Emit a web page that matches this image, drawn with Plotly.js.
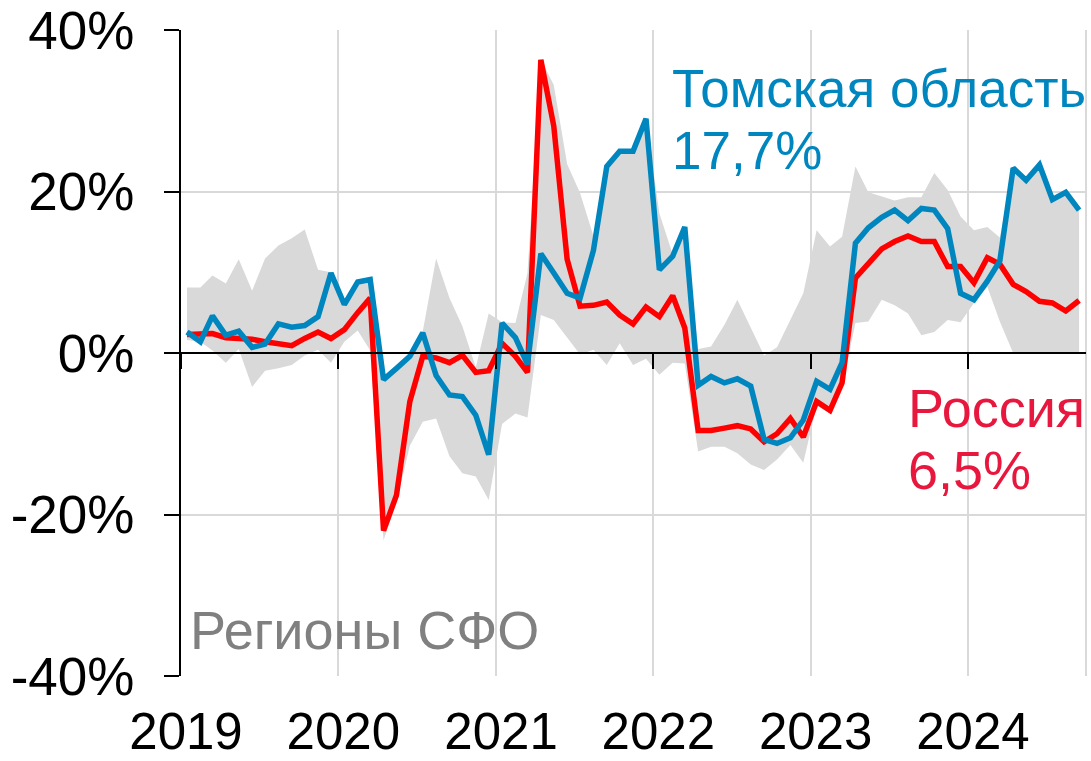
<!DOCTYPE html>
<html>
<head>
<meta charset="utf-8">
<script src="https://cdn.plot.ly/plotly-3.0.1.min.js"></script>
<style>
  html, body { margin: 0; padding: 0; background: #fff; }
  #plotArea { width: 1091px; height: 761px; }
</style>
</head>
<body>
<div id="plotArea"></div>
<script>
// monthly data, Jan 2019 .. Sep 2024, % y/y
var startYear = 2019;
var nMonths = 69;
var months = [];
for (var i = 0; i < nMonths; i++) {
    var y = startYear + Math.floor(i / 12);
    var m = (i % 12) + 1;
    months.push(y + "-" + (m < 10 ? "0" + m : m) + "-15");
}

// Россия
var russia = [
    2.3, 2.3, 2.4, 1.9, 1.8, 1.7, 1.4, 1.1, 0.9, 1.8, 2.6, 1.8,
    2.9, 5.0, 6.8, -22.0, -17.6, -6.0, -0.4, -0.6, -1.2, -0.3, -2.4, -2.2,
    1.2, -0.4, -2.4, 36.3, 28.1, 11.6, 5.8, 5.9, 6.3, 4.7, 3.6, 5.7,
    4.5, 7.1, 3.1, -9.6, -9.6, -9.3, -9.0, -9.4, -11.0, -10.0, -8.1, -10.4,
    -6.0, -7.1, -3.7, 9.3, 11.2, 12.9, 13.8, 14.5, 13.8, 13.8, 10.7, 10.7,
    8.7, 11.8, 11.0, 8.5, 7.6, 6.4, 6.2, 5.2, 6.5
];

// Томская область
var tomsk = [
    2.6, 1.4, 4.6, 2.2, 2.7, 0.7, 1.1, 3.6, 3.2, 3.4, 4.5, 9.9,
    6.0, 8.8, 9.1, -3.3, -1.9, -0.4, 2.5, -2.8, -5.2, -5.4, -7.7, -12.6,
    3.7, 1.9, -1.4, 12.3, 9.9, 7.4, 6.8, 12.7, 23.1, 25.0, 25.0, 29.0,
    10.3, 12.0, 15.6, -4.0, -2.9, -3.7, -3.2, -4.1, -10.7, -11.2, -10.5, -8.3,
    -3.5, -4.5, -1.2, 13.6, 15.5, 16.8, 17.7, 16.4, 17.9, 17.7, 15.4, 7.4,
    6.6, 8.9, 11.4, 22.9, 21.4, 23.3, 19.0, 19.9, 17.7
];

// Регионы СФО: max / min
var sfoMax = [
    8.1, 8.1, 9.6, 8.6, 11.6, 7.7, 11.7, 13.3, 14.2, 15.3, 10.3, 10.0,
    6.3, 9.0, 9.4, -3.0, -1.6, -0.1, 2.7, 11.7, 6.8, 3.3, -1.8, 4.9,
    3.8, 3.7, 9.9, 36.4, 33.2, 23.4, 19.8, 14.5, 23.2, 25.1, 25.1, 29.1,
    17.3, 12.2, 15.8, 0.5, 0.8, 3.5, 6.6, 3.1, -0.3, 0.7, 4.1, 7.4,
    15.2, 13.2, 14.4, 23.1, 19.9, 19.4, 18.9, 19.3, 19.3, 22.3, 20.2, 16.9,
    15.2, 15.6, 14.3, 22.9, 21.4, 23.3, 19.0, 19.9, 17.7
];
var sfoMin = [
    1.6, 1.4, 0.3, -1.2, 0.5, -4.2, -2.2, -1.9, -1.5, -0.3, 0.4, -1.2,
    1.4, 2.8, 0.3, -23.2, -18.5, -11.5, -8.5, -8.1, -12.8, -14.9, -15.3, -18.2,
    -8.8, -7.5, -8.0, 4.7, 4.1, 1.9, -0.2, 0.4, -1.5, 1.2, -1.5, -0.7,
    -2.7, -1.2, -1.3, -12.2, -11.6, -11.6, -12.4, -13.8, -14.5, -13.2, -11.4, -13.6,
    -6.5, -7.5, -4.2, 3.7, 3.9, 6.6, 5.9, 4.9, 2.2, 2.6, 4.1, 3.8,
    6.2, 8.2, 3.9, 0, 0, 0, 0, 0, 0
];

var yearTicks = ["2019-01-01", "2020-01-01", "2021-01-01", "2022-01-01", "2023-01-01", "2024-01-01"];
var yearLabels = ["2019", "2020", "2021", "2022", "2023", "2024"];
var yTicks = [-40, -20, 0, 20, 40];
var yLabels = ["-40%", "-20%", "0%", "20%", "40%"];

var font = "Liberation Sans, Arial, sans-serif";
var grey = "#d9d9d9";
var red = "#ff0000";
var blue = "#0086bf";
var crimson = "#e8173d";

var bandLow = {
    x: months, y: sfoMin,
    type: "scatter", mode: "lines",
    line: {width: 0, color: grey},
    hoverinfo: "skip", showlegend: false
};
var bandHigh = {
    x: months, y: sfoMax,
    type: "scatter", mode: "lines",
    fill: "tonexty", fillcolor: grey,
    line: {width: 0, color: grey},
    hoverinfo: "skip", showlegend: false
};
var traceRussia = {
    x: months, y: russia,
    type: "scatter", mode: "lines",
    line: {color: red, width: 5.5},
    name: "Россия"
};
var traceTomsk = {
    x: months, y: tomsk,
    type: "scatter", mode: "lines",
    line: {color: blue, width: 5.5},
    name: "Томская область",
    xaxis: "x2"
};

var data = [bandLow, bandHigh, traceRussia, traceTomsk];

var layout = {
    width: 1091, height: 761,
    margin: {l: 181, r: 5, t: 30, b: 85},
    paper_bgcolor: "#fff", plot_bgcolor: "#fff",
    showlegend: false,
    font: {family: font, color: "#000", size: 50},
    xaxis: {
        type: "date",
        range: ["2019-01-01", "2024-10-01"],
        tickmode: "array", tickvals: yearTicks, ticktext: yearLabels,
        ticks: "", showline: false, zeroline: false,
        showgrid: true, gridcolor: grey, gridwidth: 2,
        tickfont: {size: 51, family: font, color: "#000"},
        ticklabelstandoff: 21, ticklabelshift: 5
    },
    xaxis2: {
        type: "date",
        matches: "x", overlaying: "x",
        anchor: "free", position: 0.5, side: "bottom",
        tickmode: "array", tickvals: yearTicks,
        ticks: "outside", ticklen: 15, tickwidth: 2, tickcolor: "#000",
        showticklabels: false, showgrid: false, zeroline: false,
        showline: true, linecolor: "#000", linewidth: 2
    },
    yaxis: {
        range: [-40, 40],
        tickmode: "array", tickvals: yTicks, ticktext: yLabels,
        ticks: "outside", ticklen: 15, tickwidth: 2, tickcolor: "#000",
        showline: true, linecolor: "#000", linewidth: 2,
        showgrid: true, gridcolor: grey, gridwidth: 2,
        zeroline: false,
        tickfont: {size: 53, family: font, color: "#000"},
        ticklabelstandoff: 19
    },
    shapes: [{
        type: "line", xref: "paper", yref: "paper",
        x0: 1, x1: 1, y0: 0, y1: 1,
        line: {color: grey, width: 2}, layer: "below"
    }],
    annotations: [
        {text: "Томская область", xref: "paper", yref: "paper", x: 0.5405, y: 0.910,
         xanchor: "left", yanchor: "middle", showarrow: false,
         font: {size: 53, color: blue, family: font}},
        {text: "17,7%", xref: "paper", yref: "paper", x: 0.5405, y: 0.813,
         xanchor: "left", yanchor: "middle", showarrow: false,
         font: {size: 53, color: blue, family: font}},
        {text: "Россия", xref: "paper", yref: "paper", x: 0.8015, y: 0.415,
         xanchor: "left", yanchor: "middle", showarrow: false,
         font: {size: 54, color: crimson, family: font}},
        {text: "6,5%", xref: "paper", yref: "paper", x: 0.8015, y: 0.319,
         xanchor: "left", yanchor: "middle", showarrow: false,
         font: {size: 54, color: crimson, family: font}},
        {text: "Регионы СФО", xref: "paper", yref: "paper", x: 0.0075, y: 0.0712,
         xanchor: "left", yanchor: "middle", showarrow: false,
         font: {size: 54, color: "#808080", family: font}}
    ]
};

Plotly.newPlot("plotArea", data, layout, {staticPlot: true, displayModeBar: false});
</script>
</body>
</html>
